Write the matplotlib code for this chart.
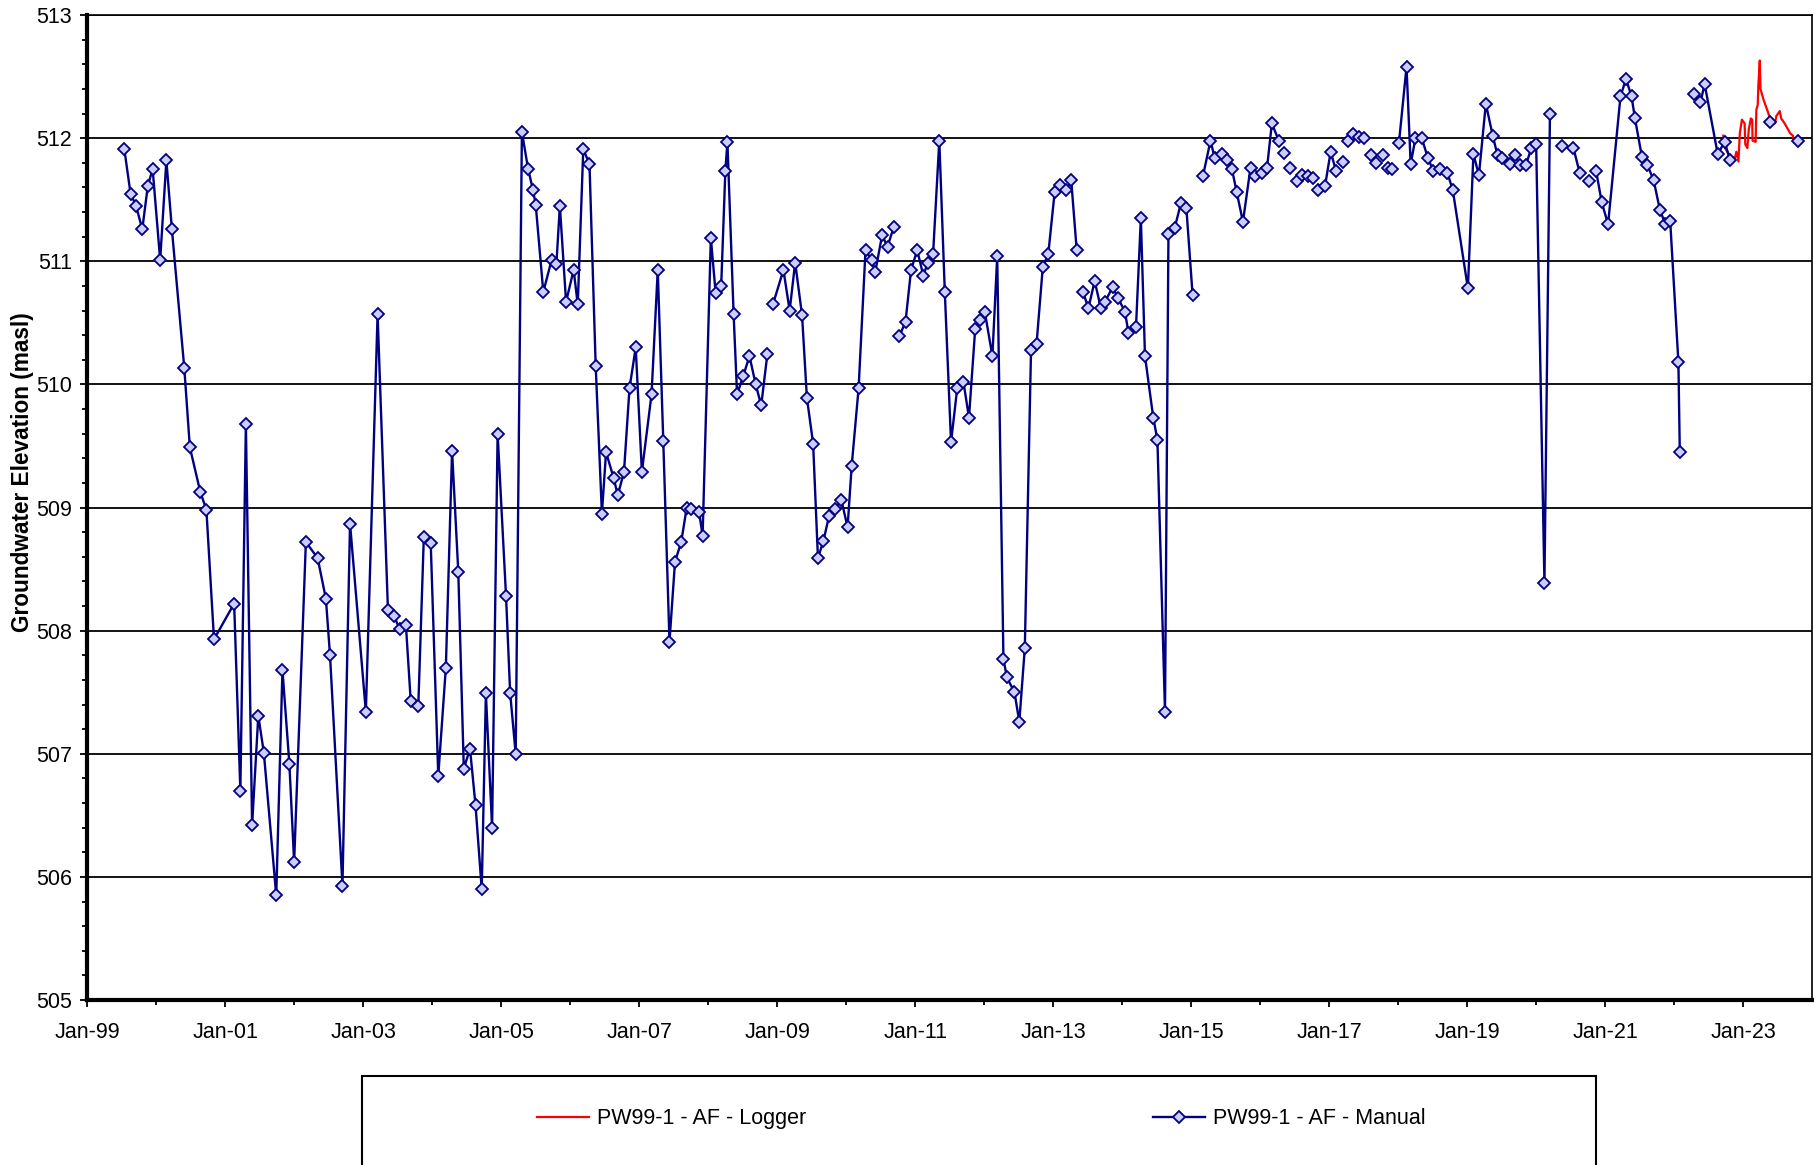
import numpy as np
import matplotlib
matplotlib.use("Agg")
from matplotlib import pyplot as plt
import matplotlib.dates as mdates
from matplotlib.lines import Line2D
from matplotlib.patches import Rectangle
from matplotlib.ticker import MultipleLocator
from datetime import datetime, timedelta

# manual readings (decimal year, groundwater elevation in masl)
manual_years = [
    1999.54, 1999.63, 1999.71, 1999.80, 1999.88, 1999.95, 2000.06, 2000.15, 2000.23, 2000.41,
    2000.49, 2000.64, 2000.73, 2000.84, 2001.13, 2001.22, 2001.30, 2001.39, 2001.48, 2001.56,
    2001.74, 2001.83, 2001.93, 2002.00, 2002.17, 2002.34, 2002.46, 2002.52, 2002.70, 2002.81,
    2003.04, 2003.21, 2003.36, 2003.45, 2003.53, 2003.62, 2003.69, 2003.80, 2003.88, 2003.98,
    2004.09, 2004.20, 2004.29, 2004.38, 2004.46, 2004.55, 2004.63, 2004.72, 2004.78, 2004.87,
    2004.95, 2005.07, 2005.13, 2005.21, 2005.30, 2005.39, 2005.46, 2005.50, 2005.61, 2005.73,
    2005.80, 2005.85, 2005.94, 2006.05, 2006.11, 2006.19, 2006.28, 2006.37, 2006.46, 2006.52,
    2006.63, 2006.69, 2006.78, 2006.86, 2006.95, 2007.04, 2007.18, 2007.27, 2007.35, 2007.44,
    2007.52, 2007.61, 2007.69, 2007.75, 2007.87, 2007.92, 2008.04, 2008.11, 2008.19, 2008.25,
    2008.28, 2008.37, 2008.42, 2008.51, 2008.60, 2008.69, 2008.77, 2008.86,
    2008.94, 2009.09, 2009.18, 2009.26, 2009.36, 2009.43, 2009.52, 2009.59, 2009.67, 2009.75,
    2009.84, 2009.93, 2010.02, 2010.08, 2010.18, 2010.28, 2010.37, 2010.42, 2010.52, 2010.60,
    2010.69,
    2010.77, 2010.86, 2010.94, 2011.03, 2011.12, 2011.18, 2011.26, 2011.35, 2011.43, 2011.52,
    2011.61, 2011.70, 2011.78, 2011.87, 2011.94, 2012.01, 2012.12, 2012.19, 2012.28, 2012.33,
    2012.44, 2012.51, 2012.59, 2012.68, 2012.76, 2012.85, 2012.93, 2013.02, 2013.10, 2013.19,
    2013.26, 2013.34,
    2013.43, 2013.51, 2013.60, 2013.69, 2013.75, 2013.86, 2013.94, 2014.04, 2014.09, 2014.20,
    2014.27, 2014.33, 2014.45, 2014.51, 2014.62, 2014.67, 2014.76, 2014.85, 2014.93, 2015.02,
    2015.17, 2015.28, 2015.34, 2015.44, 2015.52, 2015.59, 2015.66, 2015.75, 2015.86, 2015.92,
    2016.02, 2016.10, 2016.17, 2016.27, 2016.35, 2016.44, 2016.53, 2016.61, 2016.69, 2016.76,
    2016.84, 2016.94, 2017.02, 2017.10, 2017.20, 2017.27, 2017.34, 2017.43, 2017.51, 2017.61,
    2017.68, 2017.78, 2017.85, 2017.91, 2018.01, 2018.12, 2018.18, 2018.25, 2018.34, 2018.43,
    2018.51, 2018.61, 2018.71, 2018.79, 2019.01, 2019.09, 2019.17, 2019.27, 2019.37, 2019.44,
    2019.51, 2019.62, 2019.69, 2019.77, 2019.85, 2019.93, 2020.00, 2020.12, 2020.20,
    2020.37, 2020.54, 2020.63, 2020.77, 2020.87, 2020.95, 2021.04, 2021.22, 2021.30, 2021.38,
    2021.43, 2021.53, 2021.61, 2021.70, 2021.79, 2021.87, 2021.94, 2022.06, 2022.08,
    2022.29, 2022.38, 2022.44, 2022.63, 2022.73, 2022.81, 2023.39, 2023.79,
]
manual_levels = [
    511.91, 511.55, 511.45, 511.26, 511.61, 511.75, 511.01, 511.82, 511.26, 510.13,
    509.49, 509.13, 508.98, 507.93, 508.22, 506.70, 509.68, 506.42, 507.31, 507.01,
    505.85, 507.68, 506.92, 506.12, 508.72, 508.59, 508.26, 507.80, 505.93, 508.87,
    507.34, 510.57, 508.17, 508.12, 508.01, 508.05, 507.43, 507.39, 508.76, 508.71,
    506.82, 507.70, 509.46, 508.48, 506.88, 507.04, 506.58, 505.90, 507.49, 506.40,
    509.60, 508.28, 507.49, 507.00, 512.05, 511.75, 511.58, 511.46, 510.75, 511.01,
    510.98, 511.45, 510.67, 510.93, 510.65, 511.91, 511.79, 510.15, 508.95, 509.45,
    509.24, 509.10, 509.29, 509.97, 510.30, 509.29, 509.92, 510.93, 509.54, 507.91,
    508.56, 508.72, 509.00, 508.99, 508.96, 508.77, 511.19, 510.74, 510.80, 511.73,
    511.97, 510.57, 509.92, 510.07, 510.23, 510.00, 509.83, 510.25,
    510.65, 510.93, 510.60, 510.99, 510.56, 509.89, 509.52, 508.59, 508.73, 508.93,
    508.99, 509.06, 508.84, 509.34, 509.97, 511.09, 511.01, 510.91, 511.21, 511.12,
    511.28,
    510.39, 510.51, 510.93, 511.09, 510.88, 510.99, 511.06, 511.98, 510.75, 509.53,
    509.97, 510.02, 509.73, 510.45, 510.52, 510.59, 510.23, 511.04, 507.77, 507.62,
    507.50, 507.26, 507.86, 510.28, 510.33, 510.95, 511.06, 511.56, 511.62, 511.58,
    511.66, 511.09,
    510.75, 510.62, 510.84, 510.62, 510.67, 510.79, 510.70, 510.59, 510.42, 510.47,
    511.35, 510.23, 509.73, 509.55, 507.34, 511.22, 511.27, 511.47, 511.43, 510.73,
    511.69, 511.98, 511.84, 511.87, 511.82, 511.75, 511.56, 511.32, 511.76, 511.69,
    511.72, 511.76, 512.12, 511.98, 511.88, 511.76, 511.65, 511.70, 511.69, 511.68,
    511.58, 511.61, 511.89, 511.73, 511.81, 511.98, 512.03, 512.01, 512.00, 511.86,
    511.80, 511.86, 511.76, 511.75, 511.96, 512.58, 511.79, 512.00, 512.00, 511.84,
    511.73, 511.75, 511.72, 511.58, 510.78, 511.87, 511.70, 512.28, 512.02, 511.86,
    511.84, 511.79, 511.86, 511.78, 511.78, 511.92, 511.95, 508.39, 512.20,
    511.94, 511.92, 511.72, 511.65, 511.73, 511.48, 511.30, 512.34, 512.48, 512.34,
    512.16, 511.85, 511.78, 511.66, 511.42, 511.30, 511.33, 510.18, 509.45,
    512.36, 512.29, 512.44, 511.87, 511.97, 511.82, 512.13, 511.98,
]
# readings after which the manual line is not continued
manual_gap_after = [
    2008.86, 2010.69, 2013.34, 2015.02, 2016.27, 2016.35, 2016.44, 2016.53, 2016.61,
    2016.69, 2016.76, 2017.10, 2017.20, 2017.27, 2017.34, 2017.43, 2017.51, 2017.61,
    2017.68, 2017.78, 2017.85, 2017.91, 2020.20, 2020.37, 2020.63, 2020.77, 2022.08,
    2022.81, 2023.39,
]

# data logger record
logger_years = [
    2022.71, 2022.735, 2022.81, 2022.88, 2022.90, 2022.93, 2022.95, 2022.98, 2023.02, 2023.03,
    2023.06, 2023.08, 2023.11, 2023.13, 2023.135, 2023.18, 2023.19, 2023.21, 2023.22, 2023.24,
    2023.25, 2023.29, 2023.34, 2023.36, 2023.40, 2023.46, 2023.48, 2023.53, 2023.55, 2023.60,
    2023.68, 2023.72, 2023.74, 2023.79,
]
logger_levels = [
    512.02, 511.92, 511.85, 511.84, 511.89, 511.81, 512.04, 512.15, 512.12, 511.95,
    511.92, 512.07, 512.16, 512.15, 511.98, 511.97, 512.23, 512.27, 512.44, 512.63,
    512.40, 512.32, 512.24, 512.21, 512.13, 512.12, 512.18, 512.22, 512.16, 512.12,
    512.04, 512.02, 511.96, 511.98,
]

NAVY = "#000080"
FILL = "#CCCCFF"
FS = 15.5


def to_date(y):
    yr = int(y)
    return datetime(yr, 1, 1) + timedelta(days=(y - yr) * 365.25)


# split manual record into line pieces (NaN breaks the line)
man_x, man_y = [], []
for yr, lv in zip(manual_years, manual_levels):
    man_x.append(to_date(yr))
    man_y.append(lv)
    if yr in manual_gap_after:
        man_x.append(to_date(yr + 0.01))
        man_y.append(np.nan)

plt.rcParams["font.family"] = ["Liberation Sans", "DejaVu Sans"]

fig = plt.figure(figsize=(18.14, 11.65), dpi=100)
ax = fig.add_axes([0.048, 0.1416, 0.951, 0.8455])

ax.plot([to_date(y) for y in logger_years], logger_levels, color="red", lw=1.6, zorder=2)
ax.plot(man_x, man_y, color=NAVY, lw=1.7, marker="D", ms=6.5, mfc=FILL, mec=NAVY,
        mew=1.3, zorder=3)

ax.set_ylim(505, 513)
ax.yaxis.set_major_locator(MultipleLocator(1))
ax.yaxis.set_minor_locator(MultipleLocator(0.2))
ax.set_xlim(datetime(1999, 1, 1), datetime(2024, 1, 1))
ax.set_xticks([datetime(y, 1, 1) for y in range(1999, 2024, 2)])
ax.set_xticks([datetime(y, 1, 1) for y in range(2000, 2024, 2)], minor=True)
ax.xaxis.set_major_formatter(mdates.DateFormatter("%b-%y"))

ax.yaxis.grid(True, which="major", color="black", lw=1.3)
ax.set_axisbelow(True)

for s in ["left", "bottom"]:
    ax.spines[s].set_linewidth(3)
for s in ["top", "right"]:
    ax.spines[s].set_linewidth(1.2)

ax.tick_params(axis="both", which="major", labelsize=FS, length=5, width=1.3, direction="out")
ax.tick_params(axis="both", which="minor", length=3.5, width=1.3, direction="out")
ax.tick_params(axis="x", which="major", pad=11)
ax.tick_params(axis="y", which="major", pad=6)

fig.text(0.0122, 0.595, "Groundwater Elevation (masl)", rotation=90, ha="center",
         va="center", fontsize=16.3, fontweight="bold")

# legend box runs off the bottom of the picture
fig.patches.append(Rectangle((0.1996, -0.05), 0.680, 0.1264, transform=fig.transFigure,
                             facecolor="white", edgecolor="black", lw=1.5))
handles = [
    Line2D([], [], color="red", lw=1.6),
    Line2D([], [], color=NAVY, lw=1.7, marker="D", ms=6.5, mfc=FILL, mec=NAVY, mew=1.3),
]
fig.legend(handles, ["PW99-1 - AF - Logger", "PW99-1 - AF - Manual"], loc="center left",
           bbox_to_anchor=(0.290, 0.0395), ncol=2, frameon=False, fontsize=FS,
           borderpad=0, handlelength=2.42, handletextpad=0.37, columnspacing=16.1)

fig.savefig("out.png", dpi=100)
